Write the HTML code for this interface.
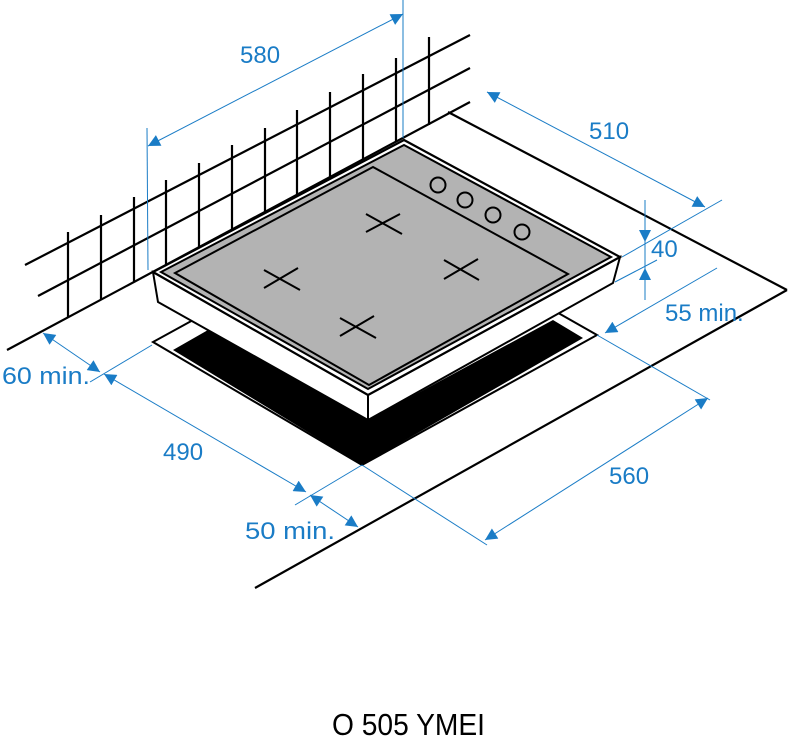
<!DOCTYPE html>
<html><head><meta charset="utf-8"><style>
html,body{margin:0;padding:0;background:#fff;}
svg{display:block;}
text{font-family:"Liberation Sans",Arial,sans-serif;}
.b{fill:#1a7cc6;font-size:24px;}
</style></head><body>
<svg width="792" height="738" viewBox="0 0 792 738" xmlns="http://www.w3.org/2000/svg">
<defs>
<marker id="a" viewBox="0 0 10 10" refX="10" refY="5" markerWidth="14" markerHeight="12" markerUnits="userSpaceOnUse" orient="auto-start-reverse">
<path d="M0,0 L10,5 L0,10 z" fill="#1a7cc6"/></marker>
</defs>
<g stroke="#000" stroke-width="2.2" fill="none">
<line x1="25" y1="265" x2="470" y2="35"/>
<line x1="38" y1="296" x2="470" y2="68"/>
<line x1="7" y1="350" x2="470" y2="102"/>
<line x1="68" y1="232" x2="68" y2="317"/>
<line x1="101" y1="215" x2="101" y2="300"/>
<line x1="134" y1="197" x2="134" y2="282"/>
<line x1="166" y1="180" x2="166" y2="265"/>
<line x1="199" y1="163" x2="199" y2="248"/>
<line x1="232" y1="145" x2="232" y2="230"/>
<line x1="265" y1="128" x2="265" y2="212"/>
<line x1="297" y1="110" x2="297" y2="195"/>
<line x1="330" y1="92" x2="330" y2="178"/>
<line x1="363" y1="74" x2="363" y2="160"/>
<line x1="396" y1="58" x2="396" y2="142"/>
<line x1="429" y1="37" x2="429" y2="125"/>
<line x1="448" y1="112" x2="787" y2="290"/>
<line x1="787" y1="290" x2="255" y2="588"/>
</g>
<!-- cutout -->
<polygon points="215,308 153,342 362,465 597,335 553,310" fill="#fff" stroke="#000" stroke-width="2"/>
<polygon points="173,350 208,330 368,420 553,320 583,338 362,465" fill="#000"/>
<!-- hob -->
<polygon points="153,272 368,395 368,420 158,302" fill="#fff" stroke="#000" stroke-width="2"/>
<polygon points="368,395 620,257 613,283 368,420" fill="#fff" stroke="#000" stroke-width="2"/>
<polygon points="404,140 620,257 368,395 153,272" fill="#fff" stroke="#000" stroke-width="2.2"/>
<polygon points="404,145 611,257 368,389 161,272" fill="#b3b3b3" stroke="#000" stroke-width="2"/>
<polygon points="373,167 568,274 369,385 175,273" fill="none" stroke="#000" stroke-width="2"/>
<g fill="none" stroke="#000" stroke-width="2">
<circle cx="438" cy="185" r="7.5"/><circle cx="465" cy="200" r="7.5"/>
<circle cx="493" cy="215" r="7.5"/><circle cx="522" cy="232" r="7.5"/>
<path d="M366,232 L400,214 M366,214 L402,234"/>
<path d="M264,288 L298,268 M264,270 L300,290"/>
<path d="M444,279 L478,259 M444,260 L479,280"/>
<path d="M340,336 L374,316 M340,318 L376,338"/>
</g>
<!-- dims -->
<g stroke="#1a7cc6" stroke-width="1" fill="none">
<line x1="147" y1="128" x2="148" y2="270"/>
<line x1="403" y1="0" x2="403" y2="138"/>
<line x1="148" y1="146" x2="403" y2="14" marker-start="url(#a)" marker-end="url(#a)"/>
<line x1="487" y1="92" x2="705" y2="207" marker-start="url(#a)" marker-end="url(#a)"/>
<line x1="622" y1="257" x2="722" y2="200"/>
<line x1="615" y1="282" x2="657" y2="260"/>
<line x1="645" y1="200" x2="645" y2="300"/>
<line x1="645" y1="212" x2="645" y2="242" marker-end="url(#a)"/>
<line x1="645" y1="290" x2="645" y2="268" marker-end="url(#a)"/>
<line x1="605" y1="333" x2="717" y2="268" marker-start="url(#a)"/>
<line x1="597" y1="335" x2="710" y2="400"/>
<line x1="485" y1="540" x2="708" y2="398" marker-start="url(#a)" marker-end="url(#a)"/>
<line x1="362" y1="465" x2="487" y2="545"/>
<line x1="152" y1="345" x2="90" y2="382"/>
<line x1="362" y1="465" x2="295" y2="505"/>
<line x1="43" y1="333" x2="100" y2="372" marker-start="url(#a)" marker-end="url(#a)"/>
<line x1="104" y1="374" x2="306" y2="492" marker-start="url(#a)" marker-end="url(#a)"/>
<line x1="310" y1="495" x2="358" y2="527" marker-start="url(#a)" marker-end="url(#a)"/>
</g>
<text class="b" x="240" y="63">580</text>
<text class="b" x="589" y="139">510</text>
<text class="b" x="651" y="257">40</text>
<text class="b" x="665" y="321">55 min.</text>
<text class="b" x="2" y="384" textLength="88" lengthAdjust="spacingAndGlyphs">60 min.</text>
<text class="b" x="163" y="460">490</text>
<text class="b" x="609" y="484">560</text>
<text class="b" x="245" y="539" textLength="90" lengthAdjust="spacingAndGlyphs">50 min.</text>
<text x="332" y="735" font-size="31" textLength="153" lengthAdjust="spacingAndGlyphs" fill="#000">O 505 YMEI</text>
</svg>
</body></html>
